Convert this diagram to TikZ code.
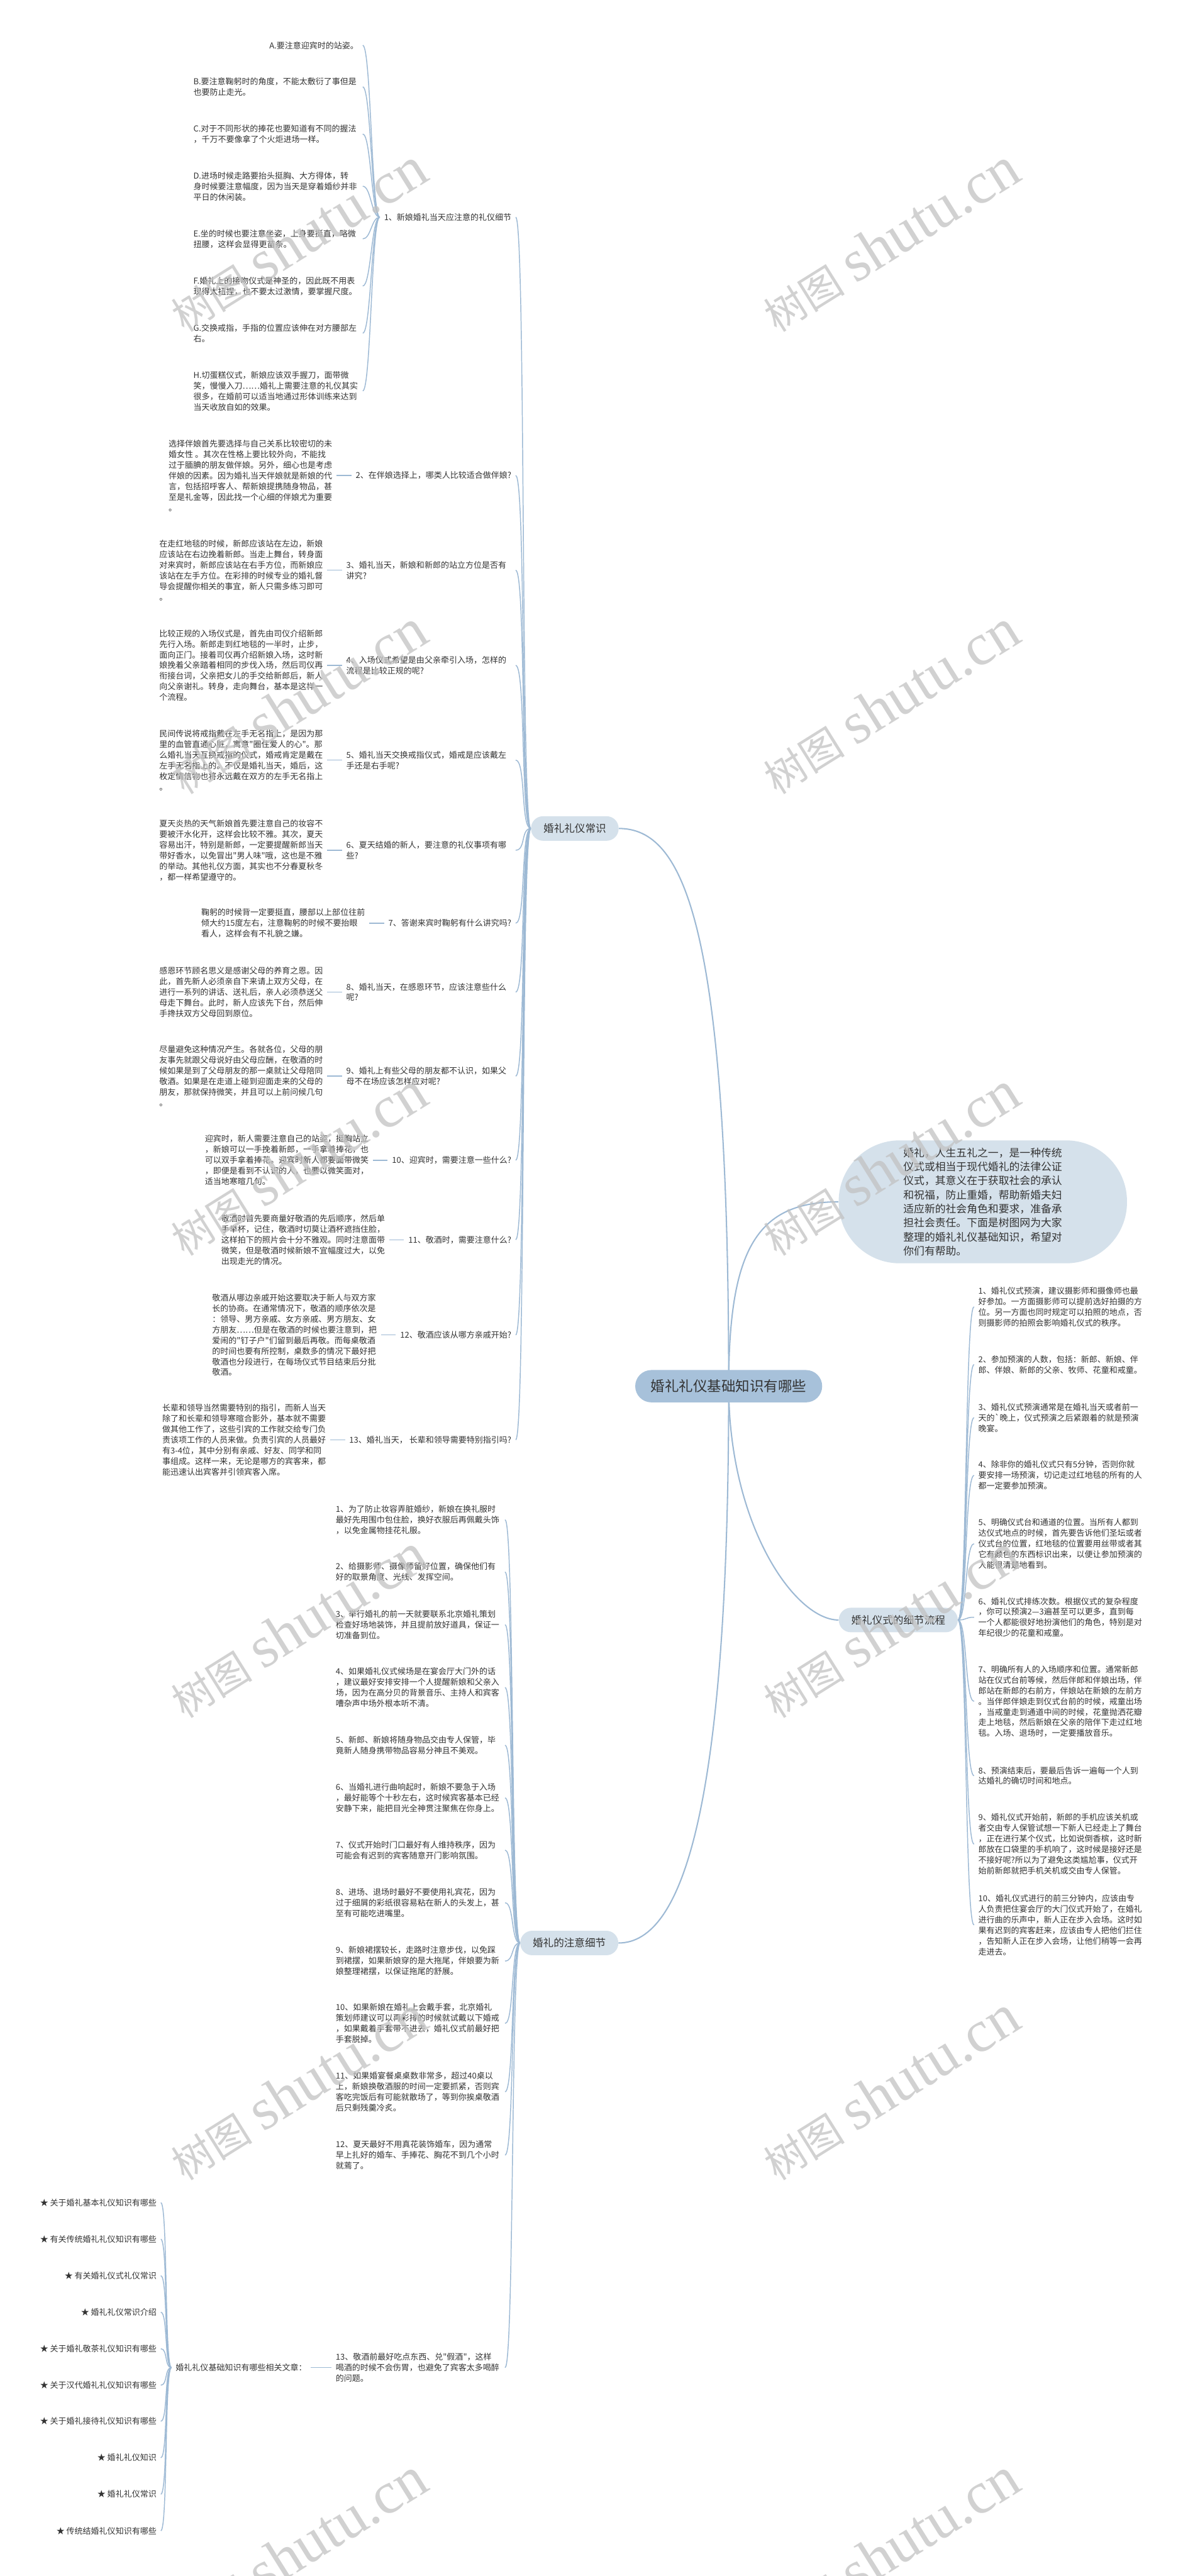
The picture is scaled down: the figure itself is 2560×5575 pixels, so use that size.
\documentclass[tikz,border=0pt]{standalone}
\usepackage{fontspec}
\usepackage{tikz}
\usetikzlibrary{positioning,backgrounds}
\newfontfamily\zh{Noto Sans CJK SC}
\newfontfamily\wmfont{Liberation Serif}
\definecolor{inkGray}{HTML}{333333}
\definecolor{lineBlue}{HTML}{9DB9D4}
\definecolor{topicFill}{HTML}{D5E1EB}
\definecolor{rootFill}{HTML}{A7C1DA}
\definecolor{markGray}{HTML}{C2C2C2}
\newcommand{\wmtext}{{\zh\fontsize{44}{44}\selectfont 树图}\hspace{12pt}{\wmfont\fontsize{64}{64}\selectfont shutu.cn}}

\begin{document}
\begin{tikzpicture}[x=0.5pt,y=-0.5pt,
  txt/.style={font=\zh\fontsize{8.85}{11.55}\selectfont,text=inkGray,inner sep=4.5pt,align=left},
  wide/.style={txt,text width=178.5pt},
  topic/.style={font=\zh\fontsize{11.3}{13.5}\selectfont,text=inkGray,fill=topicFill,rounded corners=13pt,minimum height=26.5pt,inner xsep=13.5pt},
  rootnode/.style={font=\zh\fontsize{15.3}{18}\selectfont,text=inkGray,fill=rootFill,rounded corners=17.5pt,minimum height=35pt,inner xsep=17pt},
  trunk/.style={draw=lineBlue,line width=1.4pt},
  link/.style={draw=lineBlue,line width=1pt},
  wmark/.style={text=markGray,text opacity=0.75,rotate=32,inner sep=0pt}]
 \useasboundingbox (0,0) rectangle (2560,5575);
 % Centre and topics
 \node[rootnode] (root) at (1577,3000) {婚礼礼仪基础知识有哪些};
 \node[topic] (basics) at (1244,1793) {婚礼礼仪常识};
 \node[topic] (flow) at (1944,3506) {婚礼仪式的细节流程};
 \node[topic] (notes) at (1232,4205) {婚礼的注意细节};
 \node[txt,font=\zh\fontsize{11.45}{15.2}\selectfont,fill=topicFill,rounded corners=66pt,text width=172pt,inner xsep=70pt,inner ysep=8pt] (intro) at (2127,2601) {婚礼，人生五礼之一，是一种传统\\仪式或相当于现代婚礼的法律公证\\仪式，其意义在于获取社会的承认\\和祝福，防止重婚，帮助新婚夫妇\\适应新的社会角色和要求，准备承\\担社会责任。下面是树图网为大家\\整理的婚礼礼仪基础知识，希望对\\你们有帮助。};
 % Questions
 \node[txt,anchor=east] (q1) at (1116,470) {1、新娘婚礼当天应注意的礼仪细节};
 \node[txt,anchor=east] (q2) at (1116,1029) {2、在伴娘选择上，哪类人比较适合做伴娘?};
 \node[wide,anchor=east] (q3) at (1116,1234) {3、婚礼当天，新娘和新郎的站立方位是否有\\讲究?};
 \node[wide,anchor=east] (q4) at (1116,1440) {4、入场仪式希望是由父亲牵引入场，怎样的\\流程是比较正规的呢?};
 \node[wide,anchor=east] (q5) at (1116,1645) {5、婚礼当天交换戒指仪式，婚戒是应该戴左\\手还是右手呢?};
 \node[wide,anchor=east] (q6) at (1116,1840) {6、夏天结婚的新人，要注意的礼仪事项有哪\\些?};
 \node[txt,anchor=east] (q7) at (1116,1998) {7、答谢来宾时鞠躬有什么讲究吗?};
 \node[wide,anchor=east] (q8) at (1116,2147) {8、婚礼当天，在感恩环节，应该注意些什么\\呢?};
 \node[wide,anchor=east] (q9) at (1116,2329) {9、婚礼上有些父母的朋友都不认识，如果父\\母不在场应该怎样应对呢?};
 \node[txt,anchor=east] (q10) at (1116,2511) {10、迎宾时，需要注意一些什么?};
 \node[txt,anchor=east] (q11) at (1116,2683) {11、敬酒时，需要注意什么?};
 \node[txt,anchor=east] (q12) at (1116,2889) {12、敬酒应该从哪方亲戚开始?};
 \node[txt,anchor=east] (q13) at (1116,3116) {13、婚礼当天， 长辈和领导需要特别指引吗?};
 % Bride tips
 \node[txt,anchor=east] (tipA) at (785,98) {A.要注意迎宾时的站姿。};
 \node[wide,anchor=east] (tipB) at (785,188) {B.要注意鞠躬时的角度，不能太敷衍了事但是\\也要防止走光。};
 \node[wide,anchor=east] (tipC) at (785,290) {C.对于不同形状的捧花也要知道有不同的握法\\，千万不要像拿了个火炬进场一样。};
 \node[wide,anchor=east] (tipD) at (785,403) {D.进场时候走路要抬头挺胸、大方得体，转\\身时候要注意幅度，因为当天是穿着婚纱并非\\平日的休闲装。};
 \node[wide,anchor=east] (tipE) at (785,517) {E.坐的时候也要注意坐姿，上身要挺直，略微\\扭腰，这样会显得更苗条。};
 \node[wide,anchor=east] (tipF) at (785,619) {F.婚礼上的接吻仪式是神圣的，因此既不用表\\现得太扭捏，也不要太过激情，要掌握尺度。};
 \node[wide,anchor=east] (tipG) at (785,721) {G.交换戒指，手指的位置应该伸在对方腰部左\\右。};
 \node[wide,anchor=east] (tipH) at (785,846) {H.切蛋糕仪式，新娘应该双手握刀，面带微\\笑，慢慢入刀……婚礼上需要注意的礼仪其实\\很多，在婚前可以适当地通过形体训练来达到\\当天收放自如的效果。};
 % Answers
 \node[txt,left=16pt of q2] (a2) {选择伴娘首先要选择与自己关系比较密切的未\\婚女性 。其次在性格上要比较外向，不能找\\过于腼腆的朋友做伴娘。另外，细心也是考虑\\伴娘的因素。因为婚礼当天伴娘就是新娘的代\\言，包括招呼客人、帮新娘提携随身物品，甚\\至是礼金等，因此找一个心细的伴娘尤为重要\\。};
 \node[txt,left=16pt of q3] (a3) {在走红地毯的时候，新郎应该站在左边，新娘\\应该站在右边挽着新郎。当走上舞台，转身面\\对来宾时，新郎应该站在右手方位，而新娘应\\该站在左手方位。在彩排的时候专业的婚礼督\\导会提醒你相关的事宜，新人只需多练习即可\\。};
 \node[txt,left=16pt of q4] (a4) {比较正规的入场仪式是，首先由司仪介绍新郎\\先行入场。新郎走到红地毯的一半时，止步，\\面向正门。接着司仪再介绍新娘入场，这时新\\娘挽着父亲踏着相同的步伐入场，然后司仪再\\衔接台词，父亲把女儿的手交给新郎后，新人\\向父亲谢礼。转身，走向舞台，基本是这样一\\个流程。};
 \node[txt,left=16pt of q5] (a5) {民间传说将戒指戴在左手无名指上，是因为那\\里的血管直通心脏，寓意"圈住爱人的心"。那\\么婚礼当天互换戒指的仪式，婚戒肯定是戴在\\左手无名指上的。不仅是婚礼当天，婚后，这\\枚定情信物也将永远戴在双方的左手无名指上\\。};
 \node[txt,left=16pt of q6] (a6) {夏天炎热的天气新娘首先要注意自己的妆容不\\要被汗水化开，这样会比较不雅。其次，夏天\\容易出汗，特别是新郎，一定要提醒新郎当天\\带好香水，以免冒出"男人味"哦，这也是不雅\\的举动。其他礼仪方面，其实也不分春夏秋冬\\，都一样希望遵守的。};
 \node[txt,left=16pt of q7] (a7) {鞠躬的时候背一定要挺直，腰部以上部位往前\\倾大约15度左右，注意鞠躬的时候不要抬眼\\看人，这样会有不礼貌之嫌。};
 \node[txt,left=16pt of q8] (a8) {感恩环节顾名思义是感谢父母的养育之恩。因\\此，首先新人必须亲自下来请上双方父母，在\\进行一系列的讲话、送礼后，亲人必须恭送父\\母走下舞台。此时，新人应该先下台，然后伸\\手搀扶双方父母回到原位。};
 \node[txt,left=16pt of q9] (a9) {尽量避免这种情况产生。各就各位，父母的朋\\友事先就跟父母说好由父母应酬，在敬酒的时\\候如果是到了父母朋友的那一桌就让父母陪同\\敬酒。如果是在走道上碰到迎面走来的父母的\\朋友，那就保持微笑，并且可以上前问候几句\\。};
 \node[txt,left=16pt of q10] (a10) {迎宾时，新人需要注意自己的站姿，挺胸站立\\，新娘可以一手挽着新郎，一手拿着捧花，也\\可以双手拿着捧花。迎宾时新人都要面带微笑\\，即便是看到不认识的人，也要以微笑面对，\\适当地寒暄几句。};
 \node[txt,left=16pt of q11] (a11) {敬酒时首先要商量好敬酒的先后顺序，然后单\\手举杯，记住，敬酒时切莫让酒杯遮挡住脸，\\这样拍下的照片会十分不雅观。同时注意面带\\微笑，但是敬酒时候新娘不宜幅度过大，以免\\出现走光的情况。};
 \node[txt,left=16pt of q12] (a12) {敬酒从哪边亲戚开始这要取决于新人与双方家\\长的协商。在通常情况下，敬酒的顺序依次是\\：领导、男方亲戚、女方亲戚、男方朋友、女\\方朋友……但是在敬酒的时候也要注意到，把\\爱闹的"钉子户"们留到最后再敬。而每桌敬酒\\的时间也要有所控制，桌数多的情况下最好把\\敬酒也分段进行，在每场仪式节目结束后分批\\敬酒。};
 \node[txt,left=16pt of q13] (a13) {长辈和领导当然需要特别的指引，而新人当天\\除了和长辈和领导寒暄合影外，基本就不需要\\做其他工作了，这些引宾的工作就交给专门负\\责该项工作的人员来做。负责引宾的人员最好\\有3-4位，其中分别有亲戚、好友、同学和同\\事组成。这样一来，无论是哪方的宾客来，都\\能迅速认出宾客并引领宾客入席。};
 % Ceremony flow
 \node[txt,anchor=west] (f1) at (2108,2828) {1、婚礼仪式预演，建议摄影师和摄像师也最\\好参加。一方面摄影师可以提前选好拍摄的方\\位。另一方面也同时规定可以拍照的地点，否\\则摄影师的拍照会影响婚礼仪式的秩序。};
 \node[txt,anchor=west] (f2) at (2108,2953) {2、参加预演的人数，包括：新郎、新娘、伴\\郎、伴娘、新郎的父亲、牧师、花童和戒童。};
 \node[txt,anchor=west] (f3) at (2108,3068) {3、婚礼仪式预演通常是在婚礼当天或者前一\\天的`晚上，仪式预演之后紧跟着的就是预演\\晚宴。};
 \node[txt,anchor=west] (f4) at (2108,3193) {4、除非你的婚礼仪式只有5分钟，否则你就\\要安排一场预演，切记走过红地毯的所有的人\\都一定要参加预演。};
 \node[txt,anchor=west] (f5) at (2108,3341) {5、明确仪式台和通道的位置。当所有人都到\\达仪式地点的时候，首先要告诉他们圣坛或者\\仪式台的位置，红地毯的位置要用丝带或者其\\它有颜色的东西标识出来，以便让参加预演的\\人能很清楚地看到。};
 \node[txt,anchor=west] (f6) at (2108,3500) {6、婚礼仪式排练次数。根据仪式的复杂程度\\，你可以预演2—3遍甚至可以更多，直到每\\一个人都能很好地扮演他们的角色，特别是对\\年纪很少的花童和戒童。};
 \node[txt,anchor=west] (f7) at (2108,3682) {7、明确所有人的入场顺序和位置。通常新郎\\站在仪式台前等候，然后伴郎和伴娘出场，伴\\郎站在新郎的右前方，伴娘站在新娘的左前方\\。当伴郎伴娘走到仪式台前的时候，戒童出场\\，当戒童走到通道中间的时候，花童抛洒花瓣\\走上地毯，然后新娘在父亲的陪伴下走过红地\\毯。入场、退场时，一定要播放音乐。};
 \node[txt,anchor=west] (f8) at (2108,3843) {8、预演结束后，要最后告诉一遍每一个人到\\达婚礼的确切时间和地点。};
 \node[txt,anchor=west] (f9) at (2108,3991) {9、婚礼仪式开始前，新郎的手机应该关机或\\者交由专人保管试想一下新人已经走上了舞台\\，正在进行某个仪式，比如说倒香槟，这时新\\郎放在口袋里的手机响了，这时候是接好还是\\不接好呢?所以为了避免这类尴尬事，仪式开\\始前新郎就把手机关机或交由专人保管。};
 \node[txt,anchor=west] (f10) at (2108,4166) {10、婚礼仪式进行的前三分钟内，应该由专\\人负责把住宴会厅的大门仪式开始了，在婚礼\\进行曲的乐声中，新人正在步入会场。这时如\\果有迟到的宾客赶来，应该由专人把他们拦住\\，告知新人正在步入会场，让他们稍等一会再\\走进去。};
 % Details to watch
 \node[wide,anchor=east] (n1) at (1093,3289) {1、为了防止妆容弄脏婚纱，新娘在换礼服时\\最好先用围巾包住脸，换好衣服后再佩戴头饰\\，以免金属物挂花礼服。};
 \node[wide,anchor=east] (n2) at (1093,3402) {2、给摄影师、摄像师留好位置，确保他们有\\好的取景角度、光线、发挥空间。};
 \node[wide,anchor=east] (n3) at (1093,3516) {3、举行婚礼的前一天就要联系北京婚礼策划\\检查好场地装饰，并且提前放好道具，保证一\\切准备到位。};
 \node[wide,anchor=east] (n4) at (1093,3652) {4、如果婚礼仪式候场是在宴会厅大门外的话\\，建议最好安排安排一个人提醒新娘和父亲入\\场，因为在高分贝的背景音乐、主持人和宾客\\嘈杂声中场外根本听不清。};
 \node[wide,anchor=east] (n5) at (1093,3777) {5、新郎、新娘将随身物品交由专人保管，毕\\竟新人随身携带物品容易分神且不美观。};
 \node[wide,anchor=east] (n6) at (1093,3891) {6、当婚礼进行曲响起时，新娘不要急于入场\\，最好能等个十秒左右，这时候宾客基本已经\\安静下来，能把目光全神贯注聚焦在你身上。};
 \node[wide,anchor=east] (n7) at (1093,4004) {7、仪式开始时门口最好有人维持秩序，因为\\可能会有迟到的宾客随意开门影响氛围。};
 \node[wide,anchor=east] (n8) at (1093,4118) {8、进场、退场时最好不要使用礼宾花，因为\\过于细屑的彩纸很容易粘在新人的头发上，甚\\至有可能吃进嘴里。};
 \node[wide,anchor=east] (n9) at (1093,4244) {9、新娘裙摆较长，走路时注意步伐，以免踩\\到裙摆，如果新娘穿的是大拖尾，伴娘要为新\\娘整理裙摆，以保证拖尾的舒展。};
 \node[wide,anchor=east] (n10) at (1093,4379) {10、如果新娘在婚礼上会戴手套，北京婚礼\\策划师建议可以再彩排的时候就试戴以下婚戒\\，如果戴着手套带不进去，婚礼仪式前最好把\\手套脱掉。};
 \node[wide,anchor=east] (n11) at (1093,4527) {11、如果婚宴餐桌桌数非常多，超过40桌以\\上，新娘换敬酒服的时间一定要抓紧，否则宾\\客吃完饭后有可能就散场了，等到你挨桌敬酒\\后只剩残羹冷炙。};
 \node[wide,anchor=east] (n12) at (1093,4664) {12、夏天最好不用真花装饰婚车，因为通常\\早上扎好的婚车、手捧花、胸花不到几个小时\\就蔫了。};
 \node[wide,anchor=east] (n13) at (1093,5124) {13、敬酒前最好吃点东西、兑"假酒"，这样\\喝酒的时候不会伤胃，也避免了宾客太多喝醉\\的问题。};
 % Related articles
 \node[txt,anchor=east] (rel) at (673,5124) {婚礼礼仪基础知识有哪些相关文章：};
 \node[txt,anchor=east] (r1) at (348,4767) {★ 关于婚礼基本礼仪知识有哪些};
 \node[txt,anchor=east] (r2) at (348,4846) {★ 有关传统婚礼礼仪知识有哪些};
 \node[txt,anchor=east] (r3) at (348,4925) {★ 有关婚礼仪式礼仪常识};
 \node[txt,anchor=east] (r4) at (348,5004) {★ 婚礼礼仪常识介绍};
 \node[txt,anchor=east] (r5) at (348,5083) {★ 关于婚礼敬茶礼仪知识有哪些};
 \node[txt,anchor=east] (r6) at (348,5162) {★ 关于汉代婚礼礼仪知识有哪些};
 \node[txt,anchor=east] (r7) at (348,5240) {★ 关于婚礼接待礼仪知识有哪些};
 \node[txt,anchor=east] (r8) at (348,5319) {★ 婚礼礼仪知识};
 \node[txt,anchor=east] (r9) at (348,5398) {★ 婚礼礼仪常识};
 \node[txt,anchor=east] (r10) at (348,5477) {★ 传统结婚礼仪知识有哪些};
 % Connectors
 \begin{scope}[on background layer]
 \fill[white] (0,0) rectangle (2560,5575);
 \draw[trunk] (root.center) .. controls +(0,-1000) and +(141,0) .. (basics.east);
 \draw[trunk] (root.center) .. controls +(0,-300) and +(-175,0) .. (intro.west);
 \draw[trunk] (root.center) .. controls +(0,300) and +(-95,0) .. (flow.west);
 \draw[trunk] (root.center) .. controls +(0,900) and +(142,0) .. (notes.east);
 \draw[link] (basics.west) .. controls +(-22,0) and +(22,0) .. (q1.east);
 \draw[link] (basics.west) .. controls +(-22,0) and +(22,0) .. (q2.east);
 \draw[link] (basics.west) .. controls +(-22,0) and +(22,0) .. (q3.east);
 \draw[link] (basics.west) .. controls +(-22,0) and +(22,0) .. (q4.east);
 \draw[link] (basics.west) .. controls +(-22,0) and +(22,0) .. (q5.east);
 \draw[link] (basics.west) .. controls +(-22,0) and +(22,0) .. (q6.east);
 \draw[link] (basics.west) .. controls +(-22,0) and +(22,0) .. (q7.east);
 \draw[link] (basics.west) .. controls +(-22,0) and +(22,0) .. (q8.east);
 \draw[link] (basics.west) .. controls +(-22,0) and +(22,0) .. (q9.east);
 \draw[link] (basics.west) .. controls +(-22,0) and +(22,0) .. (q10.east);
 \draw[link] (basics.west) .. controls +(-22,0) and +(22,0) .. (q11.east);
 \draw[link] (basics.west) .. controls +(-22,0) and +(22,0) .. (q12.east);
 \draw[link] (basics.west) .. controls +(-22,0) and +(22,0) .. (q13.east);
 \draw[link] (q1.west) .. controls +(-18,0) and +(18,0) .. (tipA.east);
 \draw[link] (q1.west) .. controls +(-18,0) and +(18,0) .. (tipB.east);
 \draw[link] (q1.west) .. controls +(-18,0) and +(18,0) .. (tipC.east);
 \draw[link] (q1.west) .. controls +(-18,0) and +(18,0) .. (tipD.east);
 \draw[link] (q1.west) .. controls +(-18,0) and +(18,0) .. (tipE.east);
 \draw[link] (q1.west) .. controls +(-18,0) and +(18,0) .. (tipF.east);
 \draw[link] (q1.west) .. controls +(-18,0) and +(18,0) .. (tipG.east);
 \draw[link] (q1.west) .. controls +(-18,0) and +(18,0) .. (tipH.east);
 \draw[link] (q2.west) -- (a2.east);
 \draw[link] (q3.west) -- (a3.east);
 \draw[link] (q4.west) -- (a4.east);
 \draw[link] (q5.west) -- (a5.east);
 \draw[link] (q6.west) -- (a6.east);
 \draw[link] (q7.west) -- (a7.east);
 \draw[link] (q8.west) -- (a8.east);
 \draw[link] (q9.west) -- (a9.east);
 \draw[link] (q10.west) -- (a10.east);
 \draw[link] (q11.west) -- (a11.east);
 \draw[link] (q12.west) -- (a12.east);
 \draw[link] (q13.west) -- (a13.east);
 \draw[link] (flow.east) .. controls +(20,0) and +(-20,0) .. (f1.west);
 \draw[link] (flow.east) .. controls +(20,0) and +(-20,0) .. (f2.west);
 \draw[link] (flow.east) .. controls +(20,0) and +(-20,0) .. (f3.west);
 \draw[link] (flow.east) .. controls +(20,0) and +(-20,0) .. (f4.west);
 \draw[link] (flow.east) .. controls +(20,0) and +(-20,0) .. (f5.west);
 \draw[link] (flow.east) .. controls +(20,0) and +(-20,0) .. (f6.west);
 \draw[link] (flow.east) .. controls +(20,0) and +(-20,0) .. (f7.west);
 \draw[link] (flow.east) .. controls +(20,0) and +(-20,0) .. (f8.west);
 \draw[link] (flow.east) .. controls +(20,0) and +(-20,0) .. (f9.west);
 \draw[link] (flow.east) .. controls +(20,0) and +(-20,0) .. (f10.west);
 \draw[link] (notes.west) .. controls +(-20,0) and +(20,0) .. (n1.east);
 \draw[link] (notes.west) .. controls +(-20,0) and +(20,0) .. (n2.east);
 \draw[link] (notes.west) .. controls +(-20,0) and +(20,0) .. (n3.east);
 \draw[link] (notes.west) .. controls +(-20,0) and +(20,0) .. (n4.east);
 \draw[link] (notes.west) .. controls +(-20,0) and +(20,0) .. (n5.east);
 \draw[link] (notes.west) .. controls +(-20,0) and +(20,0) .. (n6.east);
 \draw[link] (notes.west) .. controls +(-20,0) and +(20,0) .. (n7.east);
 \draw[link] (notes.west) .. controls +(-20,0) and +(20,0) .. (n8.east);
 \draw[link] (notes.west) .. controls +(-20,0) and +(20,0) .. (n9.east);
 \draw[link] (notes.west) .. controls +(-20,0) and +(20,0) .. (n10.east);
 \draw[link] (notes.west) .. controls +(-20,0) and +(20,0) .. (n11.east);
 \draw[link] (notes.west) .. controls +(-20,0) and +(20,0) .. (n12.east);
 \draw[link] (notes.west) .. controls +(-20,0) and +(20,0) .. (n13.east);
 \draw[link] (n13.west) -- (rel.east);
 \draw[link] (rel.west) .. controls +(-15,0) and +(15,0) .. (r1.east);
 \draw[link] (rel.west) .. controls +(-15,0) and +(15,0) .. (r2.east);
 \draw[link] (rel.west) .. controls +(-15,0) and +(15,0) .. (r3.east);
 \draw[link] (rel.west) .. controls +(-15,0) and +(15,0) .. (r4.east);
 \draw[link] (rel.west) .. controls +(-15,0) and +(15,0) .. (r5.east);
 \draw[link] (rel.west) .. controls +(-15,0) and +(15,0) .. (r6.east);
 \draw[link] (rel.west) .. controls +(-15,0) and +(15,0) .. (r7.east);
 \draw[link] (rel.west) .. controls +(-15,0) and +(15,0) .. (r8.east);
 \draw[link] (rel.west) .. controls +(-15,0) and +(15,0) .. (r9.east);
 \draw[link] (rel.west) .. controls +(-15,0) and +(15,0) .. (r10.east);
 \end{scope}
 % Watermarks
 \node[wmark] (wm1) at (645,519) {\wmtext};
 \node[wmark] (wm2) at (1927,519) {\wmtext};
 \node[wmark] (wm3) at (645,1519) {\wmtext};
 \node[wmark] (wm4) at (1927,1519) {\wmtext};
 \node[wmark] (wm5) at (645,2519) {\wmtext};
 \node[wmark] (wm6) at (1927,2519) {\wmtext};
 \node[wmark] (wm7) at (645,3519) {\wmtext};
 \node[wmark] (wm8) at (1927,3519) {\wmtext};
 \node[wmark] (wm9) at (645,4519) {\wmtext};
 \node[wmark] (wm10) at (1927,4519) {\wmtext};
 \node[wmark] (wm11) at (645,5519) {\wmtext};
 \node[wmark] (wm12) at (1927,5519) {\wmtext};
\end{tikzpicture}
\end{document}
